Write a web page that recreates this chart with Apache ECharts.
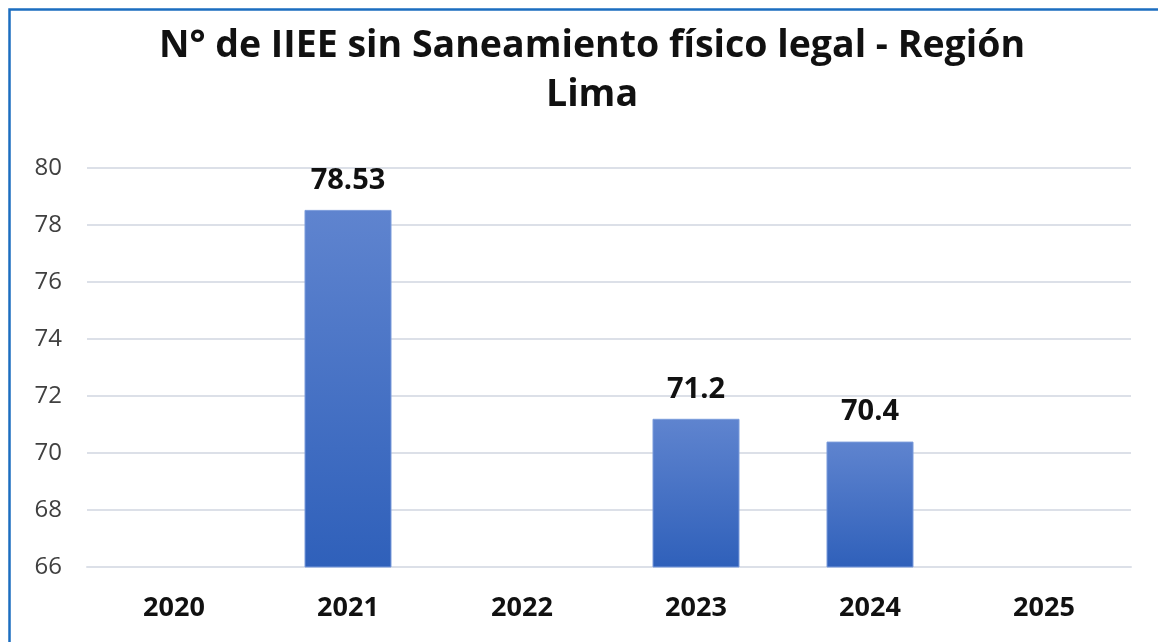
<!DOCTYPE html>
<html>
<head>
<meta charset="utf-8">
<script src="https://cdn.jsdelivr.net/npm/echarts@6/dist/echarts.min.js"></script>
<style>
html,body{margin:0;padding:0;background:#fff;}
#c{width:1158px;height:642px;}
</style>
</head>
<body>
<div id="c"></div>
<script>
const titleText = 'N° de IIEE sin Saneamiento físico legal - Región\nLima';
const categories = ['2020', '2021', '2022', '2023', '2024', '2025'];
const values = [null, 78.53, null, 71.2, 70.4, null];
const yMin = 66, yMax = 80, yStep = 2;

const chart = echarts.init(document.getElementById('c'), null, {renderer: 'canvas'});
chart.setOption({
  backgroundColor: '#ffffff',
  animation: false,
  graphic: [{
    type: 'rect',
    left: 7, top: 7,
    shape: {width: 1170, height: 660},
    style: {fill: 'none', stroke: '#1C6EC0', lineWidth: 2.5},
    z: 100
  }],
  title: {
    text: titleText,
    left: 587,
    textAlign: 'center',
    top: 17,
    textStyle: {
      fontFamily: 'Open Sans',
      fontWeight: 'bold',
      fontSize: 37.5,
      color: '#111111',
      lineHeight: 49
    }
  },
  grid: {left: 87, right: 27, top: 168, bottom: 75, containLabel: false},
  xAxis: {
    type: 'category',
    data: categories,
    axisLine: {show: true, lineStyle: {color: '#DCE0E8', width: 2}},
    axisTick: {show: false},
    axisLabel: {
      color: '#111111', fontFamily: 'Open Sans', fontWeight: 'bold', fontSize: 27, margin: 28
    }
  },
  yAxis: {
    type: 'value',
    min: yMin, max: yMax, interval: yStep,
    axisLine: {show: false},
    axisTick: {show: false},
    splitLine: {lineStyle: {color: '#DCE0E8', width: 2}},
    axisLabel: {color: '#404040', fontFamily: 'Open Sans', fontSize: 24, margin: 25}
  },
  series: [{
    type: 'bar',
    data: values,
    barWidth: '50%',
    itemStyle: {
      color: new echarts.graphic.LinearGradient(0, 0, 0, 1, [
        {offset: 0, color: '#5F84CF'},
        {offset: 1, color: '#2F60BA'}
      ]),
      borderColor: '#7A9BDB',
      borderWidth: 1
    },
    label: {
      show: true,
      position: 'top',
      distance: 15,
      color: '#111111',
      fontFamily: 'Open Sans',
      fontWeight: 'bold',
      fontSize: 29
    }
  }]
});
</script>
</body>
</html>
